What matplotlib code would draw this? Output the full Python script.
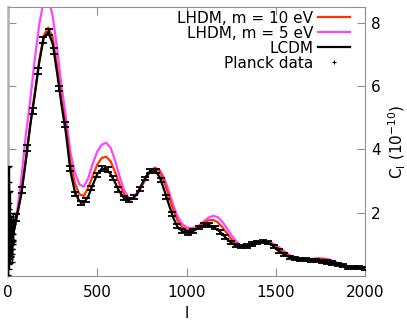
"""CMB TT power spectrum: LHDM models vs LCDM vs Planck data"""

import numpy as np
import matplotlib
matplotlib.use("Agg")
import matplotlib.pyplot as plt
from matplotlib.lines import Line2D

# multipole grid for the model curves
ell = np.concatenate(([2, 10], np.arange(25, 2001, 25)))

# LCDM
cl_lcdm = [
    1.35, 1.08, 1.20, 1.90, 2.60, 3.65, 4.78, 5.72, 6.75, 7.52,
    7.71, 7.35, 6.42, 5.40, 4.50, 3.30, 2.65, 2.36, 2.31, 2.52,
    2.88, 3.22, 3.39, 3.38, 3.22, 2.95, 2.66, 2.46, 2.40, 2.45,
    2.62, 2.90, 3.16, 3.32, 3.33, 3.12, 2.72, 2.28, 1.85, 1.55,
    1.42, 1.37, 1.39, 1.46, 1.55, 1.61, 1.61, 1.56, 1.46, 1.33,
    1.18, 1.05, 0.97, 0.93, 0.93, 0.97, 1.02, 1.06, 1.08, 1.07,
    1.00, 0.86, 0.76, 0.67, 0.60, 0.55, 0.52, 0.51, 0.51, 0.50,
    0.49, 0.47, 0.45, 0.42, 0.40, 0.36, 0.32, 0.29, 0.27, 0.26,
    0.26, 0.25,
]

# LHDM, m = 10 eV
cl_m10 = [
    1.35, 1.08, 1.20, 1.90, 2.62, 3.68, 4.80, 5.78, 6.82, 7.60,
    7.85, 7.55, 6.62, 5.55, 4.68, 3.58, 2.92, 2.58, 2.53, 2.80,
    3.17, 3.52, 3.73, 3.77, 3.62, 3.28, 2.90, 2.58, 2.44, 2.46,
    2.62, 2.88, 3.14, 3.35, 3.42, 3.30, 2.98, 2.55, 2.10, 1.75,
    1.55, 1.46, 1.45, 1.50, 1.59, 1.69, 1.76, 1.77, 1.70, 1.55,
    1.36, 1.17, 1.03, 0.96, 0.95, 0.98, 1.02, 1.05, 1.07, 1.07,
    1.03, 0.94, 0.83, 0.72, 0.63, 0.57, 0.54, 0.53, 0.53, 0.54,
    0.55, 0.55, 0.53, 0.49, 0.44, 0.39, 0.34, 0.30, 0.28, 0.27,
    0.26, 0.26,
]

# LHDM, m = 5 eV
cl_m5 = [
    1.35, 1.08, 1.22, 2.00, 3.10, 4.46, 5.58, 6.85, 7.95, 8.69,
    8.81, 8.22, 7.20, 6.00, 5.00, 3.90, 3.25, 2.90, 2.82, 3.10,
    3.55, 3.93, 4.15, 4.21, 4.05, 3.65, 3.15, 2.72, 2.48, 2.45,
    2.58, 2.82, 3.10, 3.32, 3.41, 3.35, 3.10, 2.70, 2.25, 1.88,
    1.65, 1.54, 1.51, 1.53, 1.62, 1.74, 1.85, 1.90, 1.86, 1.72,
    1.52, 1.30, 1.12, 0.98, 0.93, 0.94, 0.98, 1.03, 1.06, 1.07,
    1.05, 0.98, 0.88, 0.77, 0.67, 0.60, 0.56, 0.54, 0.53, 0.53,
    0.54, 0.55, 0.55, 0.52, 0.47, 0.41, 0.36, 0.32, 0.29, 0.28,
    0.27, 0.27,
]

# Planck, unbinned low multipoles
ell_low = np.arange(2, 30)
planck_low = [
    0.34, 1.37, 0.93, 2.24, 1.65, 1.42, 0.63, 1.93, 1.00, 0.82,
    1.19, 1.35, 1.08, 1.39, 0.93, 1.31, 0.95, 1.42, 1.15, 0.74,
    1.35, 0.97, 1.42, 1.14, 1.41, 1.61, 1.27, 1.37,
]
planck_low_up = [
    3.10, 1.60, 1.20, 1.25, 1.00, 0.90, 0.80, 0.75, 0.70, 0.62,
    0.58, 0.55, 0.52, 0.50, 0.48, 0.46, 0.44, 0.43, 0.42, 0.41,
    0.40, 0.39, 0.38, 0.38, 0.37, 0.37, 0.36, 0.36,
]
planck_low_dn = [
    0.30, 0.80, 0.55, 0.75, 0.60, 0.55, 0.40, 0.50, 0.45, 0.40,
    0.40, 0.38, 0.36, 0.35, 0.34, 0.33, 0.32, 0.31, 0.30, 0.30,
    0.29, 0.29, 0.28, 0.28, 0.28, 0.27, 0.27, 0.27,
]

# Planck, binned (delta l = 30)
ell_bin = np.arange(47.5, 2000, 30)
planck_bin = [
    1.85, 2.72, 4.05, 5.22, 6.48, 7.45, 7.72, 7.10, 5.92, 4.78,
    3.40, 2.60, 2.30, 2.40, 2.78, 3.20, 3.40, 3.36, 3.10, 2.74,
    2.47, 2.40, 2.50, 2.76, 3.08, 3.31, 3.32, 3.03, 2.50, 1.97,
    1.57, 1.41, 1.36, 1.42, 1.53, 1.60, 1.61, 1.53, 1.40, 1.22,
    1.06, 0.96, 0.92, 0.95, 1.01, 1.06, 1.08, 1.05, 0.93, 0.79,
    0.68, 0.59, 0.54, 0.51, 0.51, 0.50, 0.49, 0.46, 0.44, 0.41,
    0.36, 0.32, 0.28, 0.26, 0.26, 0.25,
]
planck_bin_err = [
    0.12, 0.10, 0.09, 0.09, 0.09, 0.09, 0.09, 0.09, 0.08, 0.08,
    0.07, 0.07, 0.07, 0.07, 0.07, 0.07, 0.07, 0.07, 0.07, 0.07,
    0.06, 0.06, 0.06, 0.06, 0.06, 0.06, 0.06, 0.06, 0.06, 0.06,
    0.06, 0.06, 0.06, 0.06, 0.06, 0.06, 0.06, 0.06, 0.06, 0.06,
    0.05, 0.05, 0.05, 0.05, 0.05, 0.05, 0.05, 0.05, 0.05, 0.05,
    0.05, 0.05, 0.05, 0.05, 0.05, 0.05, 0.05, 0.05, 0.05, 0.05,
    0.05, 0.05, 0.05, 0.05, 0.05, 0.05,
]

RED = "#ff3300"
MAGENTA = "#ff44ff"
GRAY = "#909090"

plt.rcParams["font.family"] = "DejaVu Sans"
plt.rcParams["mathtext.fontset"] = "dejavusans"

fig = plt.figure(figsize=(4.07, 3.25), dpi=100)
ax = fig.add_axes([8 / 407, 49 / 325, 357 / 407, 269 / 325])

ax.plot(ell, cl_m5, color=MAGENTA, lw=1.6, zorder=2)
ax.plot(ell, cl_m10, color=RED, lw=1.6, zorder=3)
ax.plot(ell, cl_lcdm, color="black", lw=1.6, zorder=4)

ax.errorbar(ell_low, planck_low, yerr=[planck_low_dn, planck_low_up],
            fmt="none", ecolor="black", elinewidth=1.0, capsize=2.0,
            capthick=1.0, zorder=5)
ax.errorbar(ell_bin, planck_bin, yerr=planck_bin_err,
            fmt="none", ecolor="black", elinewidth=1.2, capsize=2.7,
            capthick=1.3, zorder=5)

ax.set_xlim(0, 2000)
ax.set_ylim(0, 8.5)
ax.set_xticks([0, 500, 1000, 1500, 2000])
ax.set_yticks([2, 4, 6, 8])

ax.tick_params(direction="in", length=5.5, width=0.8, color=GRAY,
               top=True, right=True, left=True, bottom=True,
               labelleft=False, labelright=True, labelsize=11)
ax.tick_params(axis="x", pad=6.5)
ax.tick_params(axis="y", pad=4.3)
for side, spine in ax.spines.items():
    spine.set_color(GRAY)
    spine.set_linewidth(0.8)
ax.spines["left"].set_color("#b0b0b0")
ax.spines["left"].set_linewidth(1.8)

ax.set_xlabel("l", fontsize=11, labelpad=4)
ax.yaxis.set_label_position("right")
ax.set_ylabel(r"C$_{\rm l}$ (10$^{-10}$)", fontsize=11, rotation=90)
ax.yaxis.set_label_coords(1.062, 0.5)

handles = [
    Line2D([], [], color=RED, lw=1.6),
    Line2D([], [], color=MAGENTA, lw=1.6),
    Line2D([], [], color="black", lw=1.6),
    Line2D([], [], color="black", lw=0, marker="+", markersize=3.5,
           markeredgewidth=0.8),
]
labels = ["LHDM, m = 10 eV", "LHDM, m = 5 eV", "LCDM", "Planck data"]
leg = ax.legend(handles, labels, loc="upper right", frameon=False,
                markerfirst=False, fontsize=11, handlelength=2.1,
                handletextpad=0.35, labelspacing=0.0,
                bbox_to_anchor=(0.985, 1.02), borderaxespad=0.2)
for col in leg._legend_handle_box.get_children():
    col.align = "right"

fig.savefig("out.png", dpi=100)
